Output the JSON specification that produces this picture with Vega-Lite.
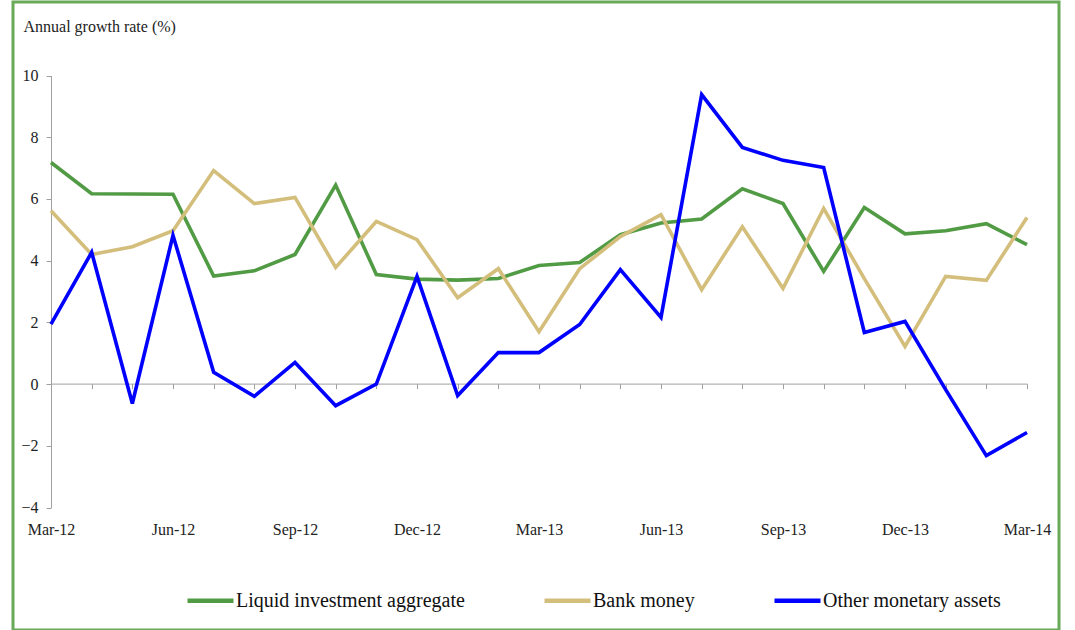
{
  "$schema": "https://vega.github.io/schema/vega-lite/v6.json",
  "autosize": {"type": "none"},
  "width": 1046,
  "height": 628,
  "padding": {"left": 13, "top": 2, "right": 16, "bottom": 0},
  "background": "white",
  "config": {
    "view": {"stroke": "#68aa58", "strokeWidth": 3},
    "font": "Liberation Serif"
  },
  "data": {
    "values": [
      {"m": "Mar-12", "Liquid investment aggregate": 7.18, "Bank money": 5.62, "Other monetary assets": 1.94},
      {"m": "Apr-12", "Liquid investment aggregate": 6.17, "Bank money": 4.2, "Other monetary assets": 4.27},
      {"m": "May-12", "Liquid investment aggregate": 6.16, "Bank money": 4.45, "Other monetary assets": -0.63},
      {"m": "Jun-12", "Liquid investment aggregate": 6.15, "Bank money": 4.97, "Other monetary assets": 4.82},
      {"m": "Jul-12", "Liquid investment aggregate": 3.5, "Bank money": 6.92, "Other monetary assets": 0.38},
      {"m": "Aug-12", "Liquid investment aggregate": 3.67, "Bank money": 5.85, "Other monetary assets": -0.4},
      {"m": "Sep-12", "Liquid investment aggregate": 4.2, "Bank money": 6.05, "Other monetary assets": 0.7},
      {"m": "Oct-12", "Liquid investment aggregate": 6.45, "Bank money": 3.78, "Other monetary assets": -0.7},
      {"m": "Nov-12", "Liquid investment aggregate": 3.55, "Bank money": 5.27, "Other monetary assets": 0.0},
      {"m": "Dec-12", "Liquid investment aggregate": 3.4, "Bank money": 4.68, "Other monetary assets": 3.49},
      {"m": "Jan-13", "Liquid investment aggregate": 3.37, "Bank money": 2.8, "Other monetary assets": -0.37},
      {"m": "Feb-13", "Liquid investment aggregate": 3.42, "Bank money": 3.74, "Other monetary assets": 1.02},
      {"m": "Mar-13", "Liquid investment aggregate": 3.84, "Bank money": 1.7, "Other monetary assets": 1.02},
      {"m": "Apr-13", "Liquid investment aggregate": 3.94, "Bank money": 3.74, "Other monetary assets": 1.93},
      {"m": "May-13", "Liquid investment aggregate": 4.84, "Bank money": 4.78, "Other monetary assets": 3.71},
      {"m": "Jun-13", "Liquid investment aggregate": 5.22, "Bank money": 5.49, "Other monetary assets": 2.16},
      {"m": "Jul-13", "Liquid investment aggregate": 5.35, "Bank money": 3.06, "Other monetary assets": 9.38},
      {"m": "Aug-13", "Liquid investment aggregate": 6.33, "Bank money": 5.1, "Other monetary assets": 7.67},
      {"m": "Sep-13", "Liquid investment aggregate": 5.85, "Bank money": 3.1, "Other monetary assets": 7.25},
      {"m": "Oct-13", "Liquid investment aggregate": 3.65, "Bank money": 5.69, "Other monetary assets": 7.02},
      {"m": "Nov-13", "Liquid investment aggregate": 5.72, "Bank money": 3.42, "Other monetary assets": 1.67},
      {"m": "Dec-13", "Liquid investment aggregate": 4.87, "Bank money": 1.22, "Other monetary assets": 2.03},
      {"m": "Jan-14", "Liquid investment aggregate": 4.97, "Bank money": 3.49, "Other monetary assets": -0.18},
      {"m": "Feb-14", "Liquid investment aggregate": 5.2, "Bank money": 3.36, "Other monetary assets": -2.32},
      {"m": "Mar-14", "Liquid investment aggregate": 4.52, "Bank money": 5.4, "Other monetary assets": -1.57}
    ]
  },
  "transform": [
    {"fold": ["Liquid investment aggregate", "Bank money", "Other monetary assets"], "as": ["series", "value"]}
  ],
  "mark": {"type": "line", "strokeWidth": 3.6, "strokeJoin": "miter"},
  "encoding": {
    "x": {
      "field": "m",
      "type": "ordinal",
      "scale": {
        "type": "point",
        "padding": 0,
        "range": [38, 1014],
        "domain": ["Mar-12","Apr-12","May-12","Jun-12","Jul-12","Aug-12","Sep-12","Oct-12","Nov-12","Dec-12","Jan-13","Feb-13","Mar-13","Apr-13","May-13","Jun-13","Jul-13","Aug-13","Sep-13","Oct-13","Nov-13","Dec-13","Jan-14","Feb-14","Mar-14"]
      },
      "axis": {
        "orient": "bottom",
        "offset": -246.4,
        "title": null,
        "domainColor": "#a0a0a0",
        "domainWidth": 1,
        "tickColor": "#a0a0a0",
        "tickSize": 5,
        "labelAngle": 0,
        "labelBaseline": "top",
        "labelPadding": 133,
        "labelFont": "Liberation Serif",
        "labelFontSize": 16,
        "labelColor": "#222222",
        "labelOverlap": false,
        "labelBound": false,
        "labelFlush": false,
        "labelExpr": "indexof(['Mar','Jun','Sep','Dec'], slice(datum.label, 0, 3)) >= 0 ? datum.label : ''"
      }
    },
    "y": {
      "field": "value",
      "type": "quantitative",
      "scale": {"domain": [-4, 10], "nice": false, "zero": false, "range": [505.5, 73.5]},
      "axis": {
        "orient": "left",
        "offset": -38,
        "values": [-4, -2, 0, 2, 4, 6, 8, 10],
        "grid": false,
        "domainColor": "#a0a0a0",
        "tickColor": "#a0a0a0",
        "tickSize": 5,
        "labelPadding": 8,
        "labelFont": "Liberation Serif",
        "labelFontSize": 16,
        "labelColor": "#222222",
        "title": "Annual growth rate (%)",
        "titleFont": "Liberation Serif",
        "titleFontSize": 16,
        "titleFontWeight": "normal",
        "titleColor": "#222222",
        "titleAngle": 0,
        "titleAlign": "left",
        "titleBaseline": "middle",
        "titleX": -28,
        "titleY": 24
      }
    },
    "color": {
      "field": "series",
      "type": "nominal",
      "scale": {
        "domain": ["Liquid investment aggregate", "Bank money", "Other monetary assets"],
        "range": ["#529b45", "#d4be7c", "#0000ff"]
      },
      "legend": {
        "title": null,
        "orient": "none",
        "direction": "horizontal",
        "columns": 3,
        "legendX": 172,
        "legendY": 573,
        "padding": 0,
        "symbolType": "stroke",
        "symbolSize": 2116,
        "symbolStrokeWidth": 4.5,
        "labelOffset": 0,
        "labelFont": "Liberation Serif",
        "labelFontSize": 20,
        "labelColor": "#111111",
        "columnPadding": 70,
        "labelLimit": 400
      }
    }
  }
}
